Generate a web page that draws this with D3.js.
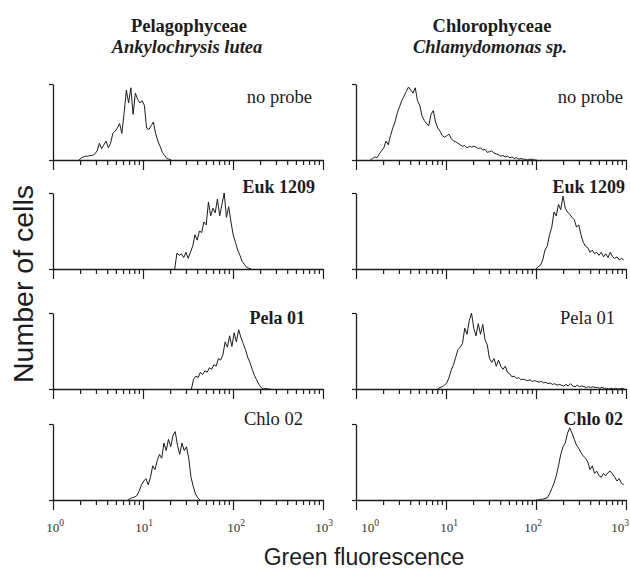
<!DOCTYPE html>
<html>
<head>
<meta charset="utf-8">
<script src="https://cdn.jsdelivr.net/npm/d3@7"></script>
<style>
  html, body { margin: 0; padding: 0; background: #fff; }
  svg { display: block; }
</style>
</head>
<body>
<div id="chart"></div>
<script>
// ---------------- DATA ----------------
const classes = ["Pelagophyceae", "Chlorophyceae"];
const speciesNames = ["Ankylochrysis lutea", "Chlamydomonas sp."];
const probes = ["no probe", "Euk 1209", "Pela 01", "Chlo 02"];
// which probe labels are bold, [left, right] per row
const probeBold = [[false, false], [true, true], [true, false], [false, true]];
const majorTicks = [1, 10, 100, 1000];
const tickExponents = ["0", "1", "2", "3"];
const binsPerDecade = 40;          // channel resolution of the histograms
const countMax = 100;              // counts as % of the panel maximum

// fluorescence of the first channel of each histogram, [row][column]
const histStart = [[1.95, 1.44], [22.5, 100], [34.5, 8.1], [6.81, 100]];

// Ankylochrysis lutea
const ankyNoProbe = [0,3,4,5,5,6,6,8,12,22,15,20,25,16,22,35,38,42,48,35,62,92,75,95,60,88,80,75,78,72,42,40,45,50,35,25,18,10,6,2,1,0];
const ankyEuk = [0,21,18,20,15,22,14,22,30,45,38,50,48,62,58,88,70,80,74,92,70,85,100,68,82,62,45,35,25,18,10,6,2,1,0];
const ankyPela = [0,13,17,15,22,19,24,22,28,26,32,30,40,38,45,62,55,70,56,74,62,78,68,60,52,42,35,26,18,12,6,2,0,1,0,0];
const ankyChlo = [0,2,3,4,6,12,20,25,28,20,30,45,40,52,60,55,75,65,80,70,85,90,72,60,75,65,70,55,30,18,8,3,0];

// Chlamydomonas sp.
const chlamNoProbe = [0,2,4,3,8,12,16,25,20,32,42,50,62,70,78,84,90,96,92,88,95,78,72,58,52,48,45,60,65,50,42,38,32,30,32,34,28,25,24,22,20,18,19,16,18,17,18,17,15,16,13,14,10,11,12,9,8,7,5,6,4,5,3,4,2,3,1,2,1,1,0,1,1,0,0];
const chlamEuk = [0,3,5,12,25,30,45,55,75,70,85,78,96,80,75,72,68,65,55,58,45,35,30,28,22,25,20,22,18,22,16,20,15,22,16,14,16,12,14,12];
const chlamPela = [0,2,3,5,8,15,25,32,42,52,55,60,80,72,90,100,80,70,86,72,85,65,58,40,35,40,30,38,30,26,30,22,20,16,17,14,15,12,13,12,11,12,10,11,10,9,10,8,9,7,8,6,7,5,6,5,4,6,4,7,4,3,5,3,4,3,2,3,2,3,2,2,1,2,1,1,0,1,0,1,0,0,1,0];
const chlamChlo = [0,0,1,1,2,3,8,15,22,32,45,60,70,75,88,95,88,80,72,68,62,58,55,50,40,45,35,38,32,30,35,32,36,38,34,30,25,28,22,20];

const histograms = [
  [ankyNoProbe, chlamNoProbe],
  [ankyEuk, chlamEuk],
  [ankyPela, chlamPela],
  [ankyChlo, chlamChlo]
];

// ---------------- LAYOUT ----------------
const W = 630, H = 570;
const ink = "#1c1c1c";
const serif = "'Liberation Serif', 'Times New Roman', serif";
const sans = "'Liberation Sans', Arial, sans-serif";

const panelX = [[53, 323], [356, 626]];
const rowBase = [160, 269, 389, 500];
const panelH = 76;
const labelRight = [[312, 623], [315, 625], [305, 615], [303, 623]];
const labelBaseDy = [19, 0, 11, 1];
// horizontal nudges of the tick labels, [column][tick]
const tickLabelDx = [[2, 1, 3, 1], [14, 3, -3, -6]];

const svg = d3.select("#chart").append("svg")
  .attr("width", W).attr("height", H)
  .attr("viewBox", `0 0 ${W} ${H}`);

svg.append("rect").attr("width", W).attr("height", H).attr("fill", "#fff");

const minorTicks = [];
for (let d = 0; d < 3; d++) {
  for (let m = 2; m <= 9; m++) minorTicks.push(majorTicks[d] * m);
}

probes.forEach((probe, r) => {
  classes.forEach((cls, c) => {
    const [x0, x1] = panelX[c];
    const yb = rowBase[r];
    const x = d3.scaleLog().domain([1, 1000]).range([x0, x1]);
    const y = d3.scaleLinear().domain([0, countMax]).range([yb, yb - panelH]);
    const g = svg.append("g");

    // minor ticks
    const minorAxis = d3.axisBottom(x).tickValues(minorTicks)
      .tickSize(5).tickSizeOuter(0).tickFormat("");
    const gm = g.append("g").attr("transform", `translate(0,${yb})`).call(minorAxis);
    gm.select(".domain").remove();

    // major ticks + domain line
    const majorAxis = d3.axisBottom(x).tickValues(majorTicks)
      .tickSize(10).tickSizeOuter(0).tickFormat("");
    const gM = g.append("g").attr("transform", `translate(0,${yb})`).call(majorAxis);

    // y axis
    const yAxis = d3.axisLeft(y).tickValues([0, countMax])
      .tickSize(4).tickSizeOuter(0).tickFormat("");
    const gy = g.append("g").attr("transform", `translate(${x0},0)`).call(yAxis);

    [gm, gM, gy].forEach(a => {
      a.selectAll("line").attr("stroke", ink).attr("stroke-width", 1.2);
      a.selectAll("path").attr("stroke", ink).attr("stroke-width", 1.3);
    });

    // histogram line
    const counts = histograms[r][c];
    const start = histStart[r][c];
    const line = d3.line()
      .x((v, i) => x(start * Math.pow(10, i / binsPerDecade)))
      .y(v => y(v));
    g.append("path")
      .datum(counts.filter((v, i) => start * Math.pow(10, i / binsPerDecade) <= 1000))
      .attr("d", line)
      .attr("fill", "none")
      .attr("stroke", ink)
      .attr("stroke-width", 1)
      .attr("stroke-linejoin", "round");

    // probe label
    const bold = probeBold[r][c];
    g.append("text")
      .attr("x", labelRight[r][c])
      .attr("y", yb - panelH + labelBaseDy[r])
      .attr("text-anchor", "end")
      .attr("font-family", serif)
      .attr("font-size", bold ? 18 : 18.5)
      .attr("font-weight", bold ? "bold" : "normal")
      .attr("fill", ink)
      .text(probe);

    // tick labels on the bottom row
    if (r === probes.length - 1) {
      majorTicks.forEach((t, k) => {
        const tx = g.append("text")
          .attr("x", x(t) + tickLabelDx[c][k]).attr("y", 532)
          .attr("text-anchor", "middle")
          .attr("font-family", serif)
          .attr("font-size", 13)
          .attr("fill", "#333");
        tx.append("tspan").text("10");
        tx.append("tspan").attr("dy", -6).attr("font-size", 9.5).text(tickExponents[k]);
      });
    }
  });
});

// column titles
classes.forEach((cls, c) => {
  const cx = (panelX[c][0] + panelX[c][1]) / 2;
  svg.append("text")
    .attr("x", cx + 1).attr("y", 32)
    .attr("text-anchor", "middle")
    .attr("font-family", serif).attr("font-size", 18.5).attr("font-weight", "bold")
    .attr("fill", ink)
    .text(cls);
  svg.append("text")
    .attr("x", cx - 1).attr("y", 53)
    .attr("text-anchor", "middle")
    .attr("font-family", serif).attr("font-size", 18.5).attr("font-weight", "bold")
    .attr("font-style", "italic")
    .attr("fill", ink)
    .text(speciesNames[c]);
});

// axis titles
svg.append("text")
  .attr("x", 364).attr("y", 565)
  .attr("text-anchor", "middle")
  .attr("font-family", sans).attr("font-size", 23)
  .attr("fill", ink)
  .text("Green fluorescence");

svg.append("text")
  .attr("transform", "translate(33,284) rotate(-90)")
  .attr("text-anchor", "middle")
  .attr("font-family", sans).attr("font-size", 28.5)
  .attr("fill", ink)
  .text("Number of cells");
</script>
</body>
</html>
